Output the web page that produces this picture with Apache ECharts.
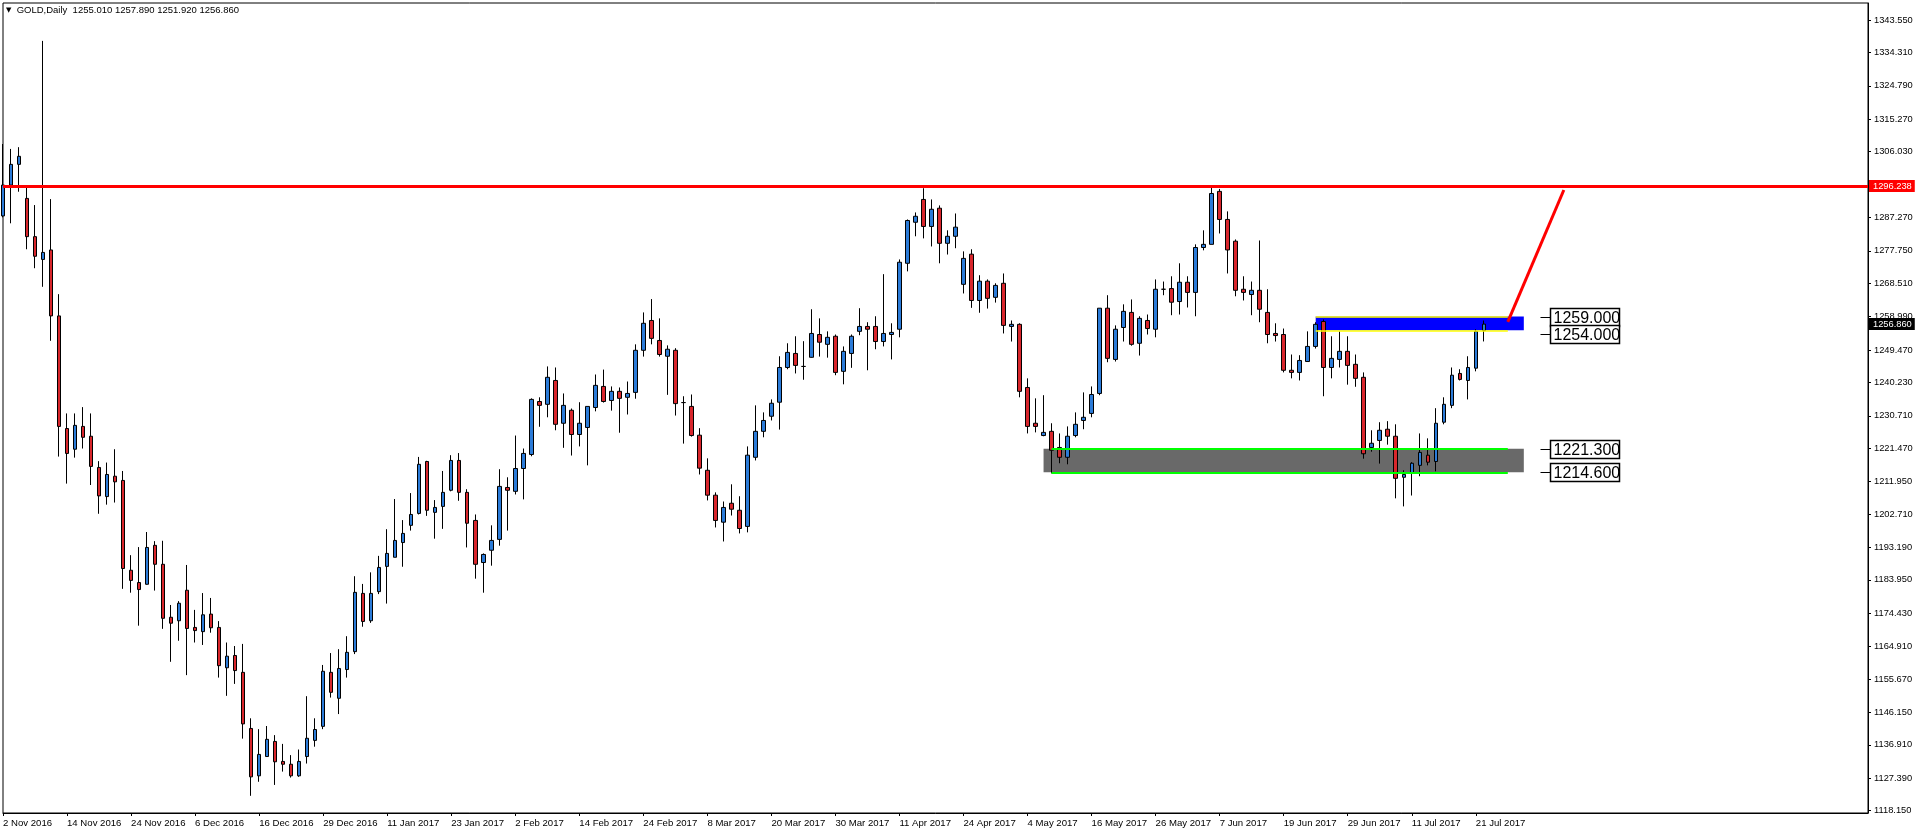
<!DOCTYPE html>
<html>
<head>
<meta charset="utf-8">
<script src="https://cdn.jsdelivr.net/npm/echarts@6.0.0/dist/echarts.min.js"></script>
<style>
html,body{margin:0;padding:0;background:#fff;}
#chart{width:1916px;height:835px;}
</style>
</head>
<body>
<div id="chart"></div>
<script>
// ---------------- DATA ----------------
const dates = [
"2 Nov 2016","3 Nov 2016","4 Nov 2016","7 Nov 2016","8 Nov 2016","9 Nov 2016","10 Nov 2016","11 Nov 2016",
"14 Nov 2016","15 Nov 2016","16 Nov 2016","17 Nov 2016","18 Nov 2016","21 Nov 2016","22 Nov 2016","23 Nov 2016",
"24 Nov 2016","25 Nov 2016","28 Nov 2016","29 Nov 2016","30 Nov 2016","1 Dec 2016","2 Dec 2016","5 Dec 2016",
"6 Dec 2016","7 Dec 2016","8 Dec 2016","9 Dec 2016","12 Dec 2016","13 Dec 2016","14 Dec 2016","15 Dec 2016",
"16 Dec 2016","19 Dec 2016","20 Dec 2016","21 Dec 2016","22 Dec 2016","23 Dec 2016","27 Dec 2016","28 Dec 2016",
"29 Dec 2016","30 Dec 2016","3 Jan 2017","4 Jan 2017","5 Jan 2017","6 Jan 2017","9 Jan 2017","10 Jan 2017",
"11 Jan 2017","12 Jan 2017","13 Jan 2017","16 Jan 2017","17 Jan 2017","18 Jan 2017","19 Jan 2017","20 Jan 2017",
"23 Jan 2017","24 Jan 2017","25 Jan 2017","26 Jan 2017","27 Jan 2017","30 Jan 2017","31 Jan 2017","1 Feb 2017",
"2 Feb 2017","3 Feb 2017","6 Feb 2017","7 Feb 2017","8 Feb 2017","9 Feb 2017","10 Feb 2017","13 Feb 2017",
"14 Feb 2017","15 Feb 2017","16 Feb 2017","17 Feb 2017","20 Feb 2017","21 Feb 2017","22 Feb 2017","23 Feb 2017",
"24 Feb 2017","27 Feb 2017","28 Feb 2017","1 Mar 2017","2 Mar 2017","3 Mar 2017","6 Mar 2017","7 Mar 2017",
"8 Mar 2017","9 Mar 2017","10 Mar 2017","13 Mar 2017","14 Mar 2017","15 Mar 2017","16 Mar 2017","17 Mar 2017",
"20 Mar 2017","21 Mar 2017","22 Mar 2017","23 Mar 2017","24 Mar 2017","27 Mar 2017","28 Mar 2017","29 Mar 2017",
"30 Mar 2017","31 Mar 2017","3 Apr 2017","4 Apr 2017","5 Apr 2017","6 Apr 2017","7 Apr 2017","10 Apr 2017",
"11 Apr 2017","12 Apr 2017","13 Apr 2017","17 Apr 2017","18 Apr 2017","19 Apr 2017","20 Apr 2017","21 Apr 2017",
"24 Apr 2017","25 Apr 2017","26 Apr 2017","27 Apr 2017","28 Apr 2017","1 May 2017","2 May 2017","3 May 2017",
"4 May 2017","5 May 2017","8 May 2017","9 May 2017","10 May 2017","11 May 2017","12 May 2017","15 May 2017",
"16 May 2017","17 May 2017","18 May 2017","19 May 2017","22 May 2017","23 May 2017","24 May 2017","25 May 2017",
"26 May 2017","29 May 2017","30 May 2017","31 May 2017","1 Jun 2017","2 Jun 2017","5 Jun 2017","6 Jun 2017",
"7 Jun 2017","8 Jun 2017","9 Jun 2017","12 Jun 2017","13 Jun 2017","14 Jun 2017","15 Jun 2017","16 Jun 2017",
"19 Jun 2017","20 Jun 2017","21 Jun 2017","22 Jun 2017","23 Jun 2017","26 Jun 2017","27 Jun 2017","28 Jun 2017",
"29 Jun 2017","30 Jun 2017","3 Jul 2017","4 Jul 2017","5 Jul 2017","6 Jul 2017","7 Jul 2017","10 Jul 2017",
"11 Jul 2017","12 Jul 2017","13 Jul 2017","14 Jul 2017","17 Jul 2017","18 Jul 2017","19 Jul 2017","20 Jul 2017",
"21 Jul 2017","24 Jul 2017"
];

const opens = [
1287.7,1296.5,1302.4,1292.7,1281.8,1275.3,1278.0,1259.2,1227.1,1221.2,1227.7,1224.9,1216.0,1207.7,1213.5,1212.3,
1186.7,1183.2,1182.7,1193.8,1188.4,1173.3,1172.3,1181.0,1170.4,1169.2,1174.2,1170.4,1158.9,1162.4,1157.6,1141.6,
1128.1,1133.6,1137.9,1132.2,1131.4,1128.1,1133.6,1138.2,1142.2,1157.6,1150.2,1158.4,1163.5,1180.1,1172.3,1180.6,
1187.8,1190.4,1194.6,1199.5,1202.9,1217.7,1203.2,1204.9,1209.5,1218.0,1208.9,1200.9,1188.9,1192.4,1195.5,1210.3,
1209.2,1215.7,1219.7,1234.8,1234.0,1240.8,1228.6,1232.3,1225.4,1227.4,1233.1,1239.1,1235.1,1237.7,1236.0,1237.4,
1249.4,1257.9,1252.2,1247.7,1249.4,1234.5,1233.4,1225.2,1215.2,1208.1,1200.4,1205.8,1203.8,1199.2,1218.9,1226.3,
1230.6,1234.6,1244.5,1248.5,1244.8,1247.4,1253.9,1251.1,1253.4,1243.4,1248.5,1254.8,1256.2,1256.2,1251.9,1253.9,
1255.4,1274.2,1285.9,1292.4,1284.7,1289.9,1279.9,1281.9,1268.2,1276.8,1263.6,1269.1,1264.5,1268.5,1256.2,1256.8,
1238.8,1228.6,1225.1,1226.3,1221.7,1218.9,1225.1,1229.4,1231.4,1237.1,1261.4,1246.8,1255.9,1260.2,1251.4,1257.9,
1255.4,1266.8,1267.0,1263.3,1268.8,1265.9,1278.7,1279.6,1294.7,1286.7,1280.5,1266.8,1265.3,1266.5,1260.2,1254.2,
1253.9,1243.7,1243.1,1246.2,1250.5,1257.6,1244.5,1246.8,1249.1,1245.4,1241.7,1221.7,1223.7,1226.9,1224.9,1213.2,
1214.3,1216.6,1219.5,1217.7,1228.9,1233.7,1242.8,1240.8,1244.3,1255.01
];
const highs = [
1308.2,1306.8,1307.3,1296.0,1290.8,1337.6,1292.5,1265.4,1231.4,1231.4,1233.2,1231.4,1217.8,1217.4,1221.2,1215.0,
1191.0,1193.3,1197.6,1195.0,1195.1,1176.8,1177.9,1188.2,1175.4,1180.2,1178.8,1172.2,1166.1,1165.1,1165.7,1144.5,
1141.4,1142.3,1139.7,1137.2,1134.0,1135.6,1150.8,1144.5,1159.7,1163.1,1164.2,1167.9,1185.0,1182.8,1186.1,1190.8,
1198.4,1207.0,1201.0,1208.7,1219.0,1217.9,1206.7,1215.0,1219.5,1220.1,1209.8,1202.6,1191.5,1199.5,1215.5,1213.2,
1225.1,1221.4,1235.7,1236.0,1244.8,1244.5,1237.1,1232.8,1234.6,1233.4,1242.5,1243.9,1239.1,1238.8,1240.5,1251.1,
1260.2,1264.0,1258.5,1250.8,1250.0,1236.3,1236.8,1227.2,1218.6,1208.9,1206.3,1211.2,1207.8,1222.0,1233.7,1231.7,
1235.4,1247.7,1251.4,1253.4,1252.0,1261.1,1258.5,1254.8,1253.9,1250.5,1253.9,1261.4,1257.4,1259.1,1271.1,1257.1,
1275.3,1286.7,1288.7,1295.6,1292.4,1290.7,1283.6,1288.4,1277.6,1278.2,1270.8,1269.6,1268.5,1271.3,1257.9,1257.1,
1241.4,1235.7,1236.6,1228.6,1225.7,1227.7,1231.7,1237.4,1239.1,1261.4,1265.1,1256.5,1262.5,1263.9,1259.1,1259.6,
1269.6,1269.0,1270.5,1274.2,1270.5,1279.6,1283.6,1295.8,1295.4,1289.0,1281.0,1270.5,1269.0,1280.7,1266.8,1257.1,
1255.6,1248.2,1248.0,1254.8,1257.4,1258.2,1253.4,1254.8,1253.4,1248.2,1243.1,1226.6,1228.9,1229.2,1228.3,1215.2,
1217.5,1225.7,1224.3,1232.9,1236.0,1244.5,1244.0,1247.7,1255.4,1257.89
];
const lows = [
1287.3,1285.6,1294.6,1278.2,1272.8,1267.5,1252.1,1219.1,1211.4,1218.8,1221.4,1211.0,1202.8,1205.4,1206.0,1181.4,
1180.3,1170.9,1182.6,1180.9,1170.0,1160.6,1166.6,1156.8,1166.1,1165.4,1168.9,1156.1,1150.9,1154.3,1138.7,1122.4,
1126.4,1133.5,1125.5,1129.3,1127.6,1127.8,1131.6,1136.4,1141.4,1150.4,1145.7,1156.1,1162.8,1170.6,1171.7,1179.9,
1177.2,1190.4,1187.7,1198.0,1202.6,1202.2,1195.7,1198.5,1209.2,1206.5,1193.2,1184.3,1180.3,1188.0,1193.7,1198.0,
1208.3,1206.9,1219.2,1227.6,1230.3,1226.6,1221.6,1219.4,1222.0,1216.6,1232.0,1234.5,1232.2,1225.9,1231.1,1235.6,
1247.6,1251.1,1247.6,1236.7,1230.8,1222.8,1224.8,1214.0,1206.6,1198.9,1194.9,1202.3,1197.2,1197.5,1218.0,1224.6,
1229.4,1226.8,1244.0,1242.8,1241.0,1247.3,1247.6,1247.3,1242.3,1239.7,1244.4,1253.7,1243.7,1249.7,1250.5,1246.8,
1253.1,1271.9,1281.9,1281.3,1279.0,1274.2,1276.7,1278.5,1265.6,1261.5,1260.1,1261.3,1263.0,1254.2,1251.9,1236.0,
1225.7,1226.0,1224.9,1214.3,1217.2,1216.9,1224.6,1226.9,1230.3,1236.6,1246.0,1246.2,1251.9,1250.7,1247.9,1253.9,
1253.1,1265.1,1259.4,1259.6,1261.6,1259.1,1277.9,1279.6,1282.7,1271.3,1264.8,1263.6,1259.4,1257.4,1251.4,1251.9,
1243.1,1241.4,1240.8,1246.2,1249.9,1236.3,1241.4,1244.5,1239.6,1239.0,1218.5,1220.5,1217.1,1222.5,1207.2,1204.9,
1208.0,1213.5,1216.6,1214.9,1228.3,1232.9,1240.8,1235.4,1243.4,1251.92
];
const closes = [
1296.5,1302.4,1304.7,1281.8,1276.2,1277.3,1259.2,1227.7,1220.0,1228.0,1224.6,1216.3,1207.9,1214.0,1211.9,1187.2,
1183.8,1181.2,1193.2,1188.4,1173.0,1171.6,1177.3,1170.1,1169.5,1174.0,1170.3,1159.5,1162.2,1158.1,1142.9,1127.8,
1134.2,1138.5,1132.1,1131.4,1128.1,1132.2,1138.8,1141.3,1157.9,1151.9,1158.7,1163.3,1180.4,1172.1,1180.1,1187.5,
1191.5,1195.2,1197.2,1202.6,1216.9,1203.8,1204.6,1208.9,1218.0,1208.9,1200.1,1188.4,1191.2,1195.2,1210.6,1209.5,
1215.7,1220.0,1235.4,1233.7,1241.7,1228.3,1233.7,1225.4,1228.6,1233.4,1239.4,1234.8,1237.7,1235.7,1237.1,1249.4,
1257.1,1252.8,1248.2,1249.7,1234.2,1234.5,1225.1,1215.8,1208.1,1200.9,1204.6,1204.1,1198.6,1219.5,1226.3,1229.4,
1234.3,1244.5,1248.8,1245.1,1244.8,1254.2,1251.7,1253.1,1243.1,1249.1,1253.4,1256.2,1255.4,1251.9,1254.2,1254.5,
1274.5,1286.4,1287.6,1284.7,1289.6,1279.9,1281.9,1284.5,1275.6,1263.6,1269.1,1264.2,1267.9,1256.5,1256.8,1237.7,
1227.7,1227.7,1226.0,1220.9,1218.9,1224.9,1228.3,1230.3,1236.8,1261.4,1247.1,1255.4,1260.5,1251.1,1258.5,1255.6,
1266.8,1266.8,1263.1,1268.8,1265.9,1278.7,1279.6,1294.1,1286.7,1278.0,1266.5,1265.9,1266.5,1261.1,1253.9,1253.6,
1243.7,1243.1,1246.5,1250.5,1256.8,1244.5,1247.1,1249.1,1245.1,1241.4,1219.9,1222.9,1226.6,1224.9,1212.9,1214.0,
1217.2,1220.3,1217.5,1228.6,1234.0,1242.3,1241.1,1244.5,1254.8,1256.86
];

// right-hand price scale labels
const yTicks = [1343.550,1334.310,1324.790,1315.270,1306.030,1287.270,1277.750,1268.510,1258.990,1249.470,
1240.230,1230.710,1221.470,1211.950,1202.710,1193.190,1183.950,1174.430,1164.910,1155.670,1146.150,
1136.910,1127.390,1118.150];

// drawn objects (bar index, price)
const resistanceLevel = 1296.238;
const lastPrice = 1256.860;
const titleText = "GOLD,Daily  1255.010 1257.890 1251.920 1256.860";
const zoneGray = [[130, 1221.3], [190, 1214.6]];
const zoneBlue = [[164, 1259.0], [190, 1255.1]];
const yellowLines = [[[164, 1259.0], [188, 1259.0]], [[164, 1255.1], [188, 1255.1]]];
const greenLines = [[[131, 1221.3], [188, 1221.3]], [[131, 1214.6], [188, 1214.6]]];
const trendLine = [[188, 1257.5], [195, 1295.1]];
const labelLevels = [1259.000, 1254.000, 1221.300, 1214.600];
const futureSlots = 48;

// ---------------- BUILD ----------------
const cats = dates.concat(Array.from({length: futureSlots}, () => ''));
const candles = dates.map((d, i) => [opens[i], closes[i], lows[i], highs[i]]);
const LABEL_SLOT = 192;
const labelData = labelLevels.map(v => [LABEL_SLOT, v]);

const FONT = '"Liberation Sans", Arial, sans-serif';

function seg(pair, color, width) {
  return [{coord: pair[0], lineStyle: {color: color, width: width, type: 'solid'}},
          {coord: pair[1]}];
}

const chart = echarts.init(document.getElementById('chart'), null, {renderer: 'canvas'});
const option = {
  animation: false,
  backgroundColor: '#ffffff',
  title: {
    text: '{t|▼}  ' + titleText,
    left: 6, top: 5, padding: 0,
    textStyle: {
      fontFamily: FONT, fontSize: 9.5, fontWeight: 'normal', color: '#000',
      rich: { t: {fontSize: 7, color: '#000', fontFamily: 'DejaVu Sans'} }
    }
  },
  grid: {left: 3, right: 48, top: 3, bottom: 22, show: true, borderColor: '#000', borderWidth: 1, backgroundColor: '#fff'},
  xAxis: {
    type: 'category',
    data: cats,
    boundaryGap: false,
    axisLine: {show: true, lineStyle: {color: '#000', width: 1}},
    axisTick: {show: true, length: 3, lineStyle: {color: '#000'},
      interval: (i) => i % 8 === 0 && i < dates.length},
    axisLabel: {show: true, color: '#000', fontFamily: FONT, fontSize: 9.6, align: 'left', margin: 5,
      interval: (i) => i % 8 === 0 && i < dates.length},
    splitLine: {show: false}
  },
  yAxis: {
    type: 'value',
    position: 'right',
    min: 1117.5,
    max: 1348.4,
    axisLine: {show: true, lineStyle: {color: '#000', width: 1}},
    axisTick: {show: true, length: 3, customValues: yTicks, lineStyle: {color: '#000'}},
    axisLabel: {show: true, customValues: yTicks, color: '#000', fontFamily: FONT, fontSize: 9.3, margin: 6,
      formatter: (v) => v.toFixed(3)},
    splitLine: {show: false}
  },
  series: [
    {
      type: 'candlestick',
      data: candles,
      barWidth: 4,
      z: 2,
      itemStyle: {
        color: '#2b7bd8', color0: '#d8262c',
        borderColor: '#000', borderColor0: '#000', borderColorDoji: '#000', borderWidth: 1
      },
      markArea: {
        silent: true,
        data: [
          [{coord: zoneGray[0], itemStyle: {color: '#696969'}}, {coord: zoneGray[1]}],
          [{coord: zoneBlue[0], itemStyle: {color: '#0000ff'}}, {coord: zoneBlue[1]}]
        ]
      },
      markLine: {
        silent: true,
        symbol: ['none', 'none'],
        animation: false,
        data: [
          {yAxis: resistanceLevel, lineStyle: {color: '#ff0000', width: 3, type: 'solid'},
            label: {show: true, position: 'end', distance: 1, formatter: resistanceLevel.toFixed(3),
              backgroundColor: '#ff0000', color: '#fff', fontFamily: FONT, fontSize: 9.3, padding: [2, 3, 1, 4]}},
          {yAxis: lastPrice, lineStyle: {color: 'rgba(0,0,0,0)', width: 0},
            label: {show: true, position: 'end', distance: 1, formatter: lastPrice.toFixed(3),
              backgroundColor: '#000', color: '#fff', fontFamily: FONT, fontSize: 9.3, padding: [2, 3, 1, 4]}},
          seg(yellowLines[0], '#ffff00', 1.5),
          seg(yellowLines[1], '#ffff00', 1.5),
          seg(greenLines[0], '#00ff00', 2),
          seg(greenLines[1], '#00ff00', 2),
          seg(trendLine, '#ff0000', 3)
        ],
        label: {show: false}
      }
    },
    {
      type: 'custom',
      z: 6,
      silent: true,
      data: labelData,
      renderItem: function (params, api) {
        const p = api.coord([api.value(0), api.value(1)]);
        const x = Math.round(p[0]) + 0.5, y = Math.round(p[1]) + 0.5;
        const txt = api.value(1).toFixed(3);
        return {
          type: 'group',
          children: [
            {type: 'line', shape: {x1: x, y1: y, x2: x + 10, y2: y}, style: {stroke: '#000', lineWidth: 1}},
            {type: 'rect', shape: {x: x + 10, y: y - 9, width: 69, height: 18},
              style: {fill: '#fff', stroke: '#000', lineWidth: 1.5}},
            {type: 'text', style: {x: x + 13, y: y + 1, text: txt, font: '16px ' + FONT, fill: '#000',
              verticalAlign: 'middle', align: 'left'}}
          ]
        };
      }
    }
  ]
};
chart.setOption(option);
</script>
</body>
</html>
